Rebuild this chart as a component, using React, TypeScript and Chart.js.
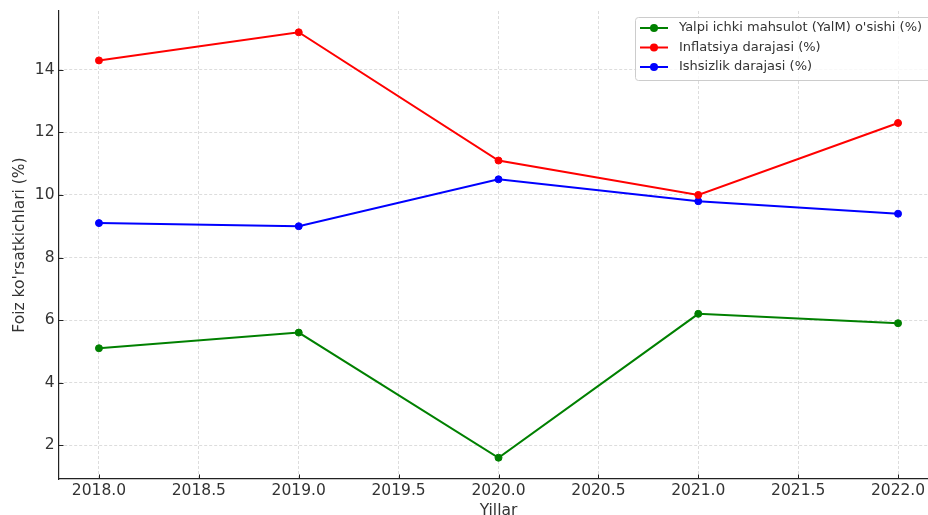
import React, { useEffect, useRef } from "react";
import { Chart, registerables } from "chart.js";

Chart.register(...registerables);

const years = [2018, 2019, 2020, 2021, 2022];
const gdpGrowth = [5.1, 5.6, 1.6, 6.2, 5.9];
const inflation = [14.3, 15.2, 11.1, 10.0, 12.3];
const unemployment = [9.1, 9.0, 10.5, 9.8, 9.4];
const seriesLabels = [
  "Yalpi ichki mahsulot (YalM) o'sishi (%)",
  "Inflatsiya darajasi (%)",
  "Ishsizlik darajasi (%)",
];
const seriesColors = ["#008000", "#ff0000", "#0000ff"];
const xTitle = "Yillar";
const yTitle = "Foiz ko'rsatkichlari (%)";
const xMin = 2017.8;
const xMax = 2022.2;
const yMin = 0.92;
const yMax = 15.88;

const FONT = "'DejaVu Sans', sans-serif";
const TEXT = "#333333";
const CANVAS_W = 945;
const CANVAS_H = 525;

const tickPlugin = {
  id: "inwardTicks",
  afterDraw(chart: any) {
    const { ctx, chartArea, scales } = chart;
    ctx.save();
    ctx.strokeStyle = "#222222";
    ctx.lineWidth = 1;
    const xs = scales.x;
    xs.ticks.forEach((t: any) => {
      const px = Math.round(xs.getPixelForValue(t.value)) + 0.5;
      ctx.beginPath();
      ctx.moveTo(px, chartArea.bottom);
      ctx.lineTo(px, chartArea.bottom - 4.5);
      ctx.stroke();
    });
    const ys = scales.y;
    ys.ticks.forEach((t: any) => {
      const py = Math.round(ys.getPixelForValue(t.value)) + 0.5;
      ctx.beginPath();
      ctx.moveTo(chartArea.left, py);
      ctx.lineTo(chartArea.left + 4.5, py);
      ctx.stroke();
    });
    ctx.restore();
  },
};

const legendPlugin = {
  id: "boxLegend",
  afterDraw(chart: any) {
    const { ctx } = chart;
    const bx = 635.5;
    const by = 17.5;
    const bw = 300;
    const bh = 63;
    ctx.save();
    ctx.beginPath();
    const r = 3;
    ctx.moveTo(bx + r, by);
    ctx.lineTo(bx + bw - r, by);
    ctx.arcTo(bx + bw, by, bx + bw, by + r, r);
    ctx.lineTo(bx + bw, by + bh - r);
    ctx.arcTo(bx + bw, by + bh, bx + bw - r, by + bh, r);
    ctx.lineTo(bx + r, by + bh);
    ctx.arcTo(bx, by + bh, bx, by + bh - r, r);
    ctx.lineTo(bx, by + r);
    ctx.arcTo(bx, by, bx + r, by, r);
    ctx.closePath();
    ctx.fillStyle = "rgba(255,255,255,0.8)";
    ctx.fill();
    ctx.strokeStyle = "#cccccc";
    ctx.lineWidth = 1;
    ctx.stroke();

    const rows = [28, 47.5, 67];
    chart.data.datasets.forEach((ds: any, i: number) => {
      const y = rows[i];
      ctx.strokeStyle = ds.borderColor;
      ctx.lineWidth = 2;
      ctx.beginPath();
      ctx.moveTo(640, y);
      ctx.lineTo(668, y);
      ctx.stroke();
      ctx.fillStyle = ds.borderColor;
      ctx.beginPath();
      ctx.arc(654, y, 4, 0, Math.PI * 2);
      ctx.fill();
      ctx.fillStyle = TEXT;
      ctx.font = `13px ${FONT}`;
      ctx.textBaseline = "middle";
      ctx.textAlign = "left";
      ctx.fillText(ds.label, 679, y);
    });
    ctx.restore();
  },
};

export default function App() {
  const ref = useRef<HTMLCanvasElement | null>(null);

  useEffect(() => {
    if (!ref.current) return;
    const series = [gdpGrowth, inflation, unemployment];
    const chart = new Chart(ref.current, {
      type: "line",
      data: {
        datasets: series.map((vals, i) => ({
          label: seriesLabels[i],
          data: years.map((yr, j) => ({ x: yr, y: vals[j] })),
          borderColor: seriesColors[i],
          backgroundColor: seriesColors[i],
          pointBackgroundColor: seriesColors[i],
          pointBorderColor: seriesColors[i],
          borderWidth: 2,
          pointRadius: 3.5,
          pointBorderWidth: 1,
          tension: 0,
          fill: false,
        })),
      },
      options: {
        responsive: false,
        animation: false,
        devicePixelRatio: 1,
        layout: { padding: { left: 0, top: 11, right: CANVAS_W - 938, bottom: 0 } },
        plugins: {
          legend: { display: false },
          tooltip: { enabled: false },
        },
        scales: {
          x: {
            type: "linear",
            min: xMin,
            max: xMax,
            afterFit(scale: any) {
              scale.height = CANVAS_H - 479;
              scale.paddingLeft = 0;
              scale.paddingRight = 0;
            },
            ticks: {
              stepSize: 0.5,
              includeBounds: false,
              autoSkip: false,
              maxRotation: 0,
              padding: 2.5,
              color: TEXT,
              font: { family: FONT, size: 15.5 },
              callback: (v: any) => Number(v).toFixed(1),
            },
            grid: {
              color: "rgba(176,176,176,0.55)",
              lineWidth: 0.8,
              drawTicks: false,
            },
            border: { display: true, color: "#222222", width: 1.2, dash: [3, 2] },
            title: {
              display: true,
              text: xTitle,
              color: TEXT,
              font: { family: FONT, size: 15.5 },
              padding: { top: 0, bottom: 5.2 },
            },
          },
          y: {
            type: "linear",
            min: yMin,
            max: yMax,
            afterFit(scale: any) {
              scale.width = 59;
              scale.paddingTop = 0;
              scale.paddingBottom = 0;
            },
            ticks: {
              stepSize: 2,
              includeBounds: false,
              padding: 4.5,
              color: TEXT,
              font: { family: FONT, size: 15.5 },
            },
            grid: {
              color: "rgba(176,176,176,0.55)",
              lineWidth: 0.8,
              drawTicks: false,
            },
            border: { display: true, color: "#222222", width: 1.2, dash: [3, 2] },
            title: {
              display: true,
              text: yTitle,
              color: TEXT,
              font: { family: FONT, size: 15.5 },
              padding: { top: 10.5, bottom: 0 },
            },
          },
        },
      },
      plugins: [tickPlugin, legendPlugin],
    } as any);
    return () => chart.destroy();
  }, []);

  return (
    <div
      style={{
        position: "fixed",
        left: 0,
        top: 0,
        width: 928,
        height: 515,
        overflow: "hidden",
        background: "#ffffff",
      }}
    >
      <canvas
        ref={ref}
        width={CANVAS_W}
        height={CANVAS_H}
        style={{ display: "block", width: CANVAS_W, height: CANVAS_H }}
      />
    </div>
  );
}
